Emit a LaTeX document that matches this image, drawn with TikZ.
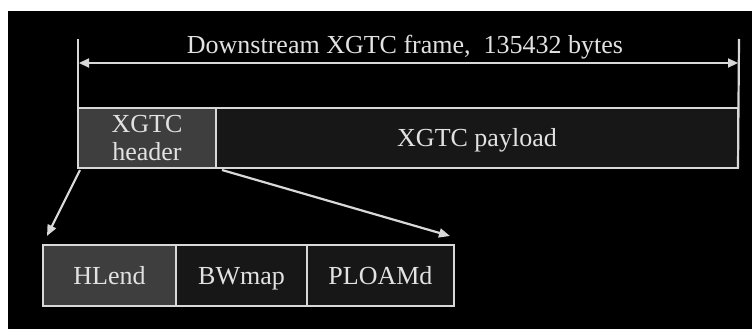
\documentclass[tikz,border=0pt]{standalone}
\usepackage{fontspec}
\setmainfont{Liberation Serif}
\usetikzlibrary{arrows.meta}
\definecolor{linegray}{HTML}{D8D8D8}
\definecolor{textgray}{HTML}{E2E2E2}
\definecolor{fieldlight}{HTML}{3E3E3E}
\definecolor{fielddark}{HTML}{171717}
\begin{document}
\begin{tikzpicture}[x=1pt,y=-1pt,
  field/.style={draw=linegray, line width=2.4pt, inner sep=0pt, outer sep=0pt,
    text=textgray, font=\fontsize{26}{28}\selectfont, align=center},
  oneline/.style={text height=17pt, text depth=0pt},
  lightfield/.style={field, fill=fieldlight},
  darkfield/.style={field, fill=fielddark},
  conn/.style={draw=linegray, line width=2.2pt,
    -{Triangle[length=11pt,width=9pt]}},
  dimline/.style={draw=linegray, line width=2.2pt},
  dimarrow/.style={draw=linegray, line width=2.2pt,
    {Triangle[length=10pt,width=9pt]}-{Triangle[length=10pt,width=9pt]}}]
  % page: white strip at the top and left, black canvas elsewhere
  \fill[white] (0,0) rectangle (752,329);
  \fill[black] (8,11) rectangle (752,329);
  \useasboundingbox (0,0) rectangle (752,329);

  % frame title and its extent
  \node[text=textgray, font=\fontsize{26}{28}\selectfont, anchor=base, inner sep=0pt]
    (title) at (405,54) {Downstream XGTC frame,\ \ 135432 bytes};
  \coordinate (lt) at (78,39);
  \coordinate (rt) at (739,39);
  \coordinate (al) at (79,63);
  \coordinate (ar) at (738,63);

  % downstream frame: header + payload
  \node[lightfield, minimum width=138pt, minimum height=60pt] (hdr) at (147,138)
    {XGTC\\header};
  \node[darkfield, oneline, minimum width=522pt, minimum height=60pt] (pay) at (477,138)
    {XGTC payload};

  % header fields
  \node[lightfield, oneline, minimum width=133pt, minimum height=61pt] (hl) at (109.5,275.5) {HLend};
  \node[darkfield, oneline, minimum width=131pt, minimum height=61pt] (bw) at (241.5,275.5) {BWmap};
  \node[darkfield, oneline, minimum width=147pt, minimum height=61pt] (pl) at (380.5,275.5) {PLOAMd};

  % dimension lines
  \draw[dimline] (lt) -- (hdr.north west);
  \draw[dimline] (rt) -- (pay.south east);
  \draw[dimarrow] (al) -- (ar);

  % expansion of the header
  \draw[conn] ([shift={(2,2)}]hdr.south west) -- ([shift={(4,-9)}]hl.north west);
  \draw[conn] ([shift={(6,2)}]hdr.south east) -- ([shift={(-4,-9)}]pl.north east);
\end{tikzpicture}
\end{document}
